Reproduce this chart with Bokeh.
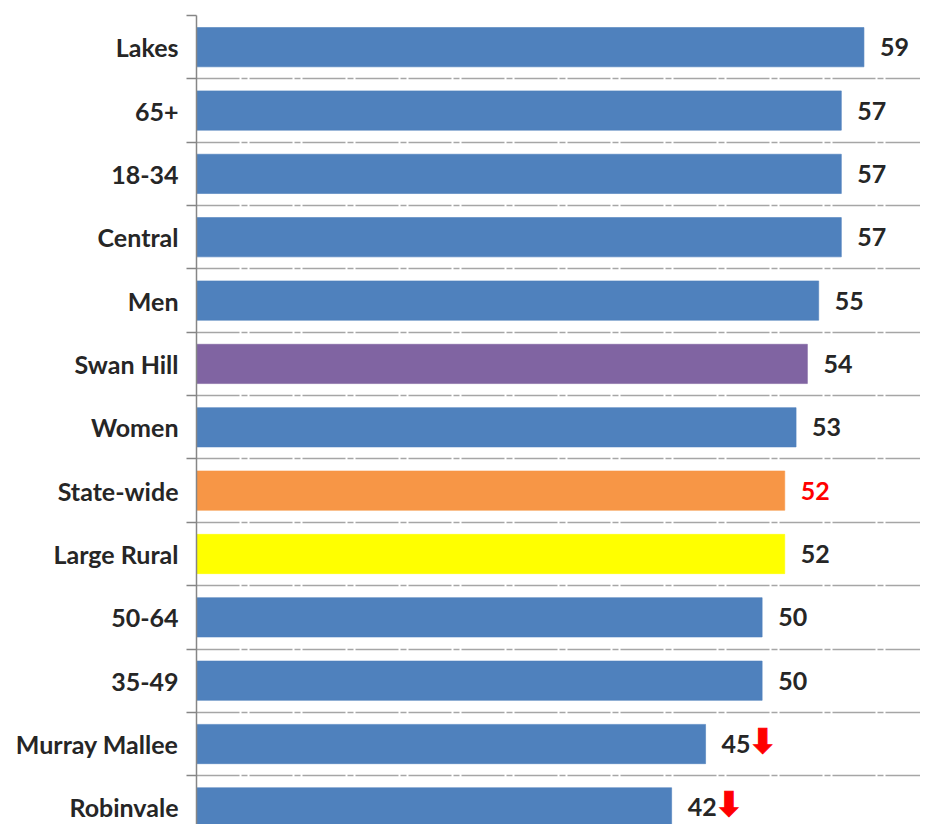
from bokeh.plotting import figure
from bokeh.models import ColumnDataSource, Range1d, FixedTicker
from bokeh.core.properties import value
from bokeh.embed import file_html
from bokeh.resources import INLINE

# ---- data (top to bottom) ----
categories = ["Lakes", "65+", "18-34", "Central", "Men", "Swan Hill", "Women",
              "State-wide", "Large Rural", "50-64", "35-49", "Murray Mallee", "Robinvale"]
scores = [59, 57, 57, 57, 55, 54, 53, 52, 52, 50, 50, 45, 42]
significance = ["", "", "", "", "", "", "", "", "", "", "", "down", "down"]

# ---- styling ----
BLUE = "#4f81bd"
special_fill = {"Swan Hill": "#8064a2", "State-wide": "#f79646", "Large Rural": "#ffff00"}
special_text = {"State-wide": "#ff0000"}
TEXT = "#262626"
FONT = "Lato"

n = len(categories)
ypos = [n - 1 - i for i in range(n)]
fills = [special_fill.get(c, BLUE) for c in categories]
tcols = [special_text.get(c, TEXT) for c in categories]
labels = [str(v) for v in scores]
arrows = ["\u2B07" if s == "down" else "" for s in significance]

src = ColumnDataSource(dict(y=ypos, v=scores, fill=fills, tcol=tcols,
                            lab=labels, arr=arrows, cat=categories))

p = figure(width=920, height=824, output_backend="svg", toolbar_location=None,
           x_range=Range1d(0, 64.0), y_range=Range1d(-0.27, n - 0.5),
           min_border_left=196, min_border_right=0, min_border_top=15,
           min_border_bottom=0)
p.outline_line_color = None
p.background_fill_color = "white"
p.border_fill_color = "white"

p.hbar(y="y", left=0, right="v", height=0.62, fill_color="fill",
       line_color="fill", line_alpha=0.6, line_width=1, source=src)

p.text(x="v", y="y", text="lab", text_color="tcol", x_offset=16,
       text_align="left", text_baseline="middle",
       text_font=value(FONT), text_font_style="bold", text_font_size="25px",
       source=src)
p.text(x="v", y="y", text="arr", text_color="#ff0000", x_offset=43, y_offset=-3,
       text_align="left", text_baseline="middle",
       text_font=value("DejaVu Sans"), text_font_style="bold",
       text_font_size="34px", text_outline_color="#ff0000", source=src)

# axes
p.xaxis.visible = False
boundaries = [i + 0.5 for i in range(-1, n)]
yt = FixedTicker(ticks=ypos, minor_ticks=boundaries)
p.yaxis.ticker = yt
p.yaxis.major_label_overrides = {y: c for y, c in zip(ypos, categories)}
p.yaxis.major_tick_out = 0
p.yaxis.major_tick_in = 0
p.yaxis.minor_tick_out = 10
p.yaxis.minor_tick_in = 0
p.yaxis.minor_tick_line_color = "#868686"
p.yaxis.minor_tick_line_width = 1.5
p.yaxis.axis_line_color = "#868686"
p.yaxis.axis_line_width = 1.5
p.yaxis.major_label_standoff = 8
p.yaxis.major_label_text_font = FONT
p.yaxis.major_label_text_font_style = "bold"
p.yaxis.major_label_text_font_size = "25px"
p.yaxis.major_label_text_color = TEXT

p.xgrid.visible = False
p.ygrid.grid_line_color = None
p.ygrid.minor_grid_line_color = "#a6a6a6"
p.ygrid.minor_grid_line_width = 1.5
p.ygrid.minor_grid_line_dash = "43 2 6 2"

open("out.html", "w").write(file_html(p, INLINE))
